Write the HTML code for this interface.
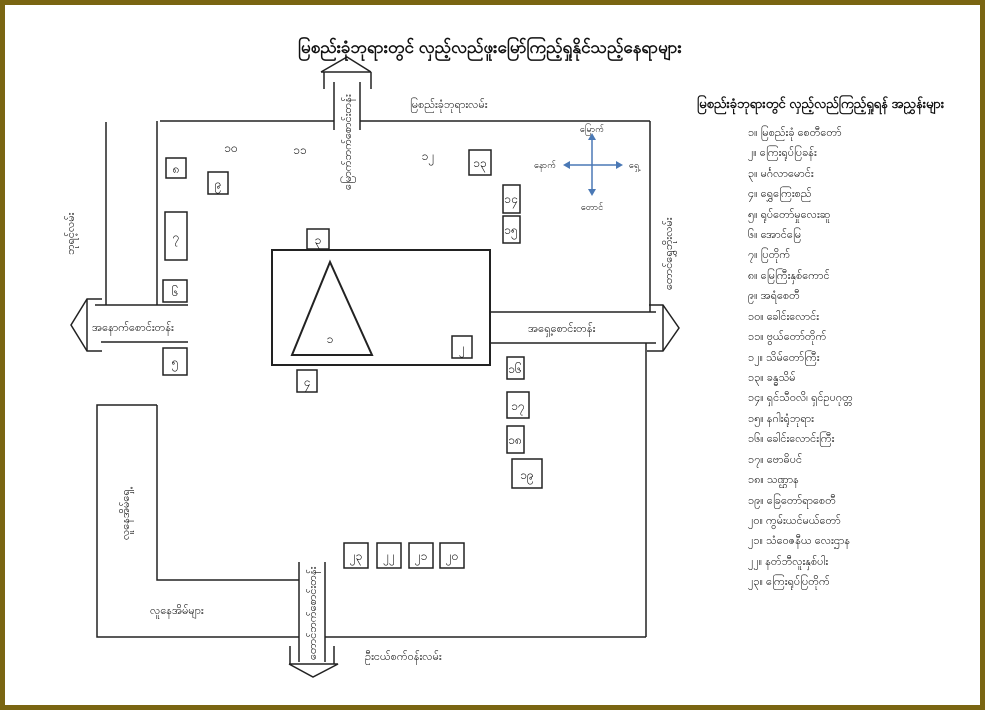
<!DOCTYPE html>
<html><head><meta charset="utf-8"><style>
html,body{margin:0;padding:0;background:#fff;}
svg{display:block;}
text{font-family:"Liberation Sans","Noto Sans CJK SC",sans-serif;fill:#111;}
</style></head><body>
<svg width="985" height="710" viewBox="0 0 985 710" xmlns="http://www.w3.org/2000/svg">
<rect x="2.5" y="2.5" width="980" height="705" fill="#fff" stroke="#7a6512" stroke-width="5"/>
<g stroke="#222" stroke-width="1.5" fill="none">
<line x1="160" y1="121" x2="334" y2="121"/><line x1="360" y1="121" x2="650" y2="121"/>
<line x1="650" y1="121" x2="650" y2="312"/>
<polyline points="321,72 347,57 371,72"/><line x1="321" y1="72" x2="371" y2="72"/>
<line x1="324" y1="72" x2="324" y2="89"/><line x1="371" y1="72" x2="371" y2="89"/>
<line x1="334" y1="82" x2="334" y2="130"/><line x1="360" y1="82" x2="360" y2="130"/>
<line x1="106" y1="122" x2="106" y2="305"/><line x1="157" y1="121" x2="157" y2="305"/>
<line x1="95" y1="305" x2="188" y2="305"/><line x1="101" y1="342" x2="188" y2="342"/>
<polyline points="102,299 87,299 71,325 87,351 102,351"/><line x1="87" y1="299" x2="87" y2="351"/>
<line x1="490" y1="312" x2="656" y2="312"/><line x1="490" y1="343" x2="656" y2="343"/>
<polyline points="649,305 663,305 679,328 663,351 647,351"/><line x1="663" y1="305" x2="663" y2="351"/>
<line x1="646" y1="343" x2="646" y2="637"/>
<polyline points="157,405 97,405 97,637 299,637"/><line x1="325" y1="637" x2="646" y2="637"/>
<polyline points="157,405 157,580 299,580"/>
<line x1="299" y1="562" x2="299" y2="662"/><line x1="325" y1="562" x2="325" y2="662"/>
<line x1="290" y1="646" x2="290" y2="664"/><line x1="334" y1="646" x2="334" y2="664"/>
<polyline points="289,664 338,664 313,677 289,664"/>
<rect x="272" y="250" width="218" height="115" stroke-width="2"/>
<polygon points="330,262 292,355 372,355" stroke-width="2"/>
<rect x="307" y="229" width="22" height="20" fill="#fff"/>
<rect x="452" y="336" width="20" height="22"/>
<rect x="297" y="370" width="20" height="22"/>
<rect x="166" y="158" width="20" height="20"/>
<rect x="208" y="172" width="20" height="22"/>
<rect x="165" y="212" width="22" height="48"/>
<rect x="163" y="280" width="24" height="22"/>
<rect x="163" y="348" width="24" height="27"/>
<rect x="469" y="150" width="22" height="25"/>
<rect x="503" y="185" width="17" height="28"/>
<rect x="503" y="216" width="17" height="27"/>
<rect x="507" y="357" width="17" height="22"/>
<rect x="507" y="392" width="22" height="26"/>
<rect x="507" y="426" width="17" height="27"/>
<rect x="512" y="459" width="30" height="29"/>
<rect x="344" y="543" width="24" height="25"/>
<rect x="377" y="543" width="24" height="25"/>
<rect x="409" y="543" width="24" height="25"/>
<rect x="440" y="543" width="24" height="25"/>
</g>
<g stroke="#4a78b5" stroke-width="1.5" fill="#4a78b5">
<line x1="568" y1="165" x2="618" y2="165"/><line x1="592" y1="138" x2="592" y2="191"/>
<polygon points="563,165 570,161 570,169" stroke="none"/>
<polygon points="623,165 616,161 616,169" stroke="none"/>
<polygon points="592,133 588,140 596,140" stroke="none"/>
<polygon points="592,196 588,189 596,189" stroke="none"/>
</g>
<g font-size="9" text-anchor="middle">
<text x="592" y="132">မြောက်</text><text x="545" y="168">နောက်</text>
<text x="634" y="168">ရှေ့</text><text x="592" y="210">တောင်</text>
</g>
<text x="490" y="53" font-size="17" text-anchor="middle" font-weight="bold">မြစည်းခုံဘုရားတွင် လှည့်လည်ဖူးမြော်ကြည့်ရှုနိုင်သည့်နေရာများ</text>
<g font-size="11">
<text x="410" y="108">မြစည်းခုံဘုရားလမ်း</text>
<text x="92" y="331">အနောက်စောင်းတန်း</text>
<text x="528" y="332">အရှေ့စောင်းတန်း</text>
<text x="150" y="614">လူနေအိမ်များ</text>
<text x="365" y="660">ဦးငယ်စက်ဝန်းလမ်း</text>
<text transform="translate(351,190) rotate(-90)">မြောက်ဘက်စောင်းတန်း</text>
<text transform="translate(316,660) rotate(-90)">တောင်ဘက်စောင်းတန်း</text>
<text transform="translate(74,255) rotate(-90)">ဘုရင့်လမ်း</text>
<text transform="translate(672,290) rotate(-90)">တောင်ရွှေဘိုးလမ်း</text>
<text transform="translate(129,540) rotate(-90)">လူနေအိမ်ရှေ့</text>
</g>
<g font-size="12" text-anchor="middle">
<text x="330" y="343">၁</text><text x="318" y="244">၃</text><text x="462" y="352">၂</text><text x="307" y="386">၄</text>
<text x="176" y="173">၈</text><text x="218" y="188">၉</text><text x="176" y="241">၇</text><text x="175" y="296">၆</text><text x="175" y="366">၅</text>
<text x="231" y="152">၁၀</text><text x="300" y="154">၁၁</text><text x="428" y="160">၁၂</text>
<text x="480" y="167">၁၃</text><text x="511" y="203">၁၄</text><text x="511" y="234">၁၅</text>
<text x="515" y="373">၁၆</text><text x="518" y="410">၁၇</text><text x="515" y="444">၁၈</text><text x="527" y="479">၁၉</text>
<text x="356" y="560">၂၃</text><text x="389" y="560">၂၂</text><text x="421" y="560">၂၁</text><text x="452" y="560">၂၀</text>
</g>
<text x="697" y="108" font-size="13" font-weight="bold">မြစည်းခုံဘုရားတွင် လှည့်လည်ကြည့်ရှုရန် အညွှန်းများ</text>
<g font-size="11">
<text x="748" y="136">၁။ မြစည်းခုံ စေတီတော်</text>
<text x="748" y="156">၂။ ကြေးရုပ်ပြခန်း</text>
<text x="748" y="177">၃။ မင်္ဂလာမောင်း</text>
<text x="748" y="197">၄။ ရွှေကြေးစည်</text>
<text x="748" y="218">၅။ ရုပ်တော်မှုလေးဆူ</text>
<text x="748" y="238">၆။ အောင်မြေ</text>
<text x="748" y="258">၇။ ပြတိုက်</text>
<text x="748" y="279">၈။ မြေကြီးနှစ်ကောင်</text>
<text x="748" y="299">၉။ အရံစေတီ</text>
<text x="748" y="320">၁၀။ ခေါင်းလောင်း</text>
<text x="748" y="340">၁၁။ ဗွယ်တော်တိုက်</text>
<text x="748" y="361">၁၂။ သိမ်တော်ကြီး</text>
<text x="748" y="381">၁၃။ ခန္ဓသိမ်</text>
<text x="748" y="401">၁၄။ ရှင်သီဝလိ၊ ရှင်ဥပဂုတ္တ</text>
<text x="748" y="422">၁၅။ နဂါးရုံဘုရား</text>
<text x="748" y="442">၁၆။ ခေါင်းလောင်းကြီး</text>
<text x="748" y="463">၁၇။ ဗောဓိပင်</text>
<text x="748" y="483">၁၈။ သဏ္ဌာန</text>
<text x="748" y="504">၁၉။ ခြေတော်ရာစေတီ</text>
<text x="748" y="524">၂၀။ ကွမ်းယင်မယ်တော်</text>
<text x="748" y="544">၂၁။ သံဝေဇနီယ လေးဌာန</text>
<text x="748" y="565">၂၂။ နတ်ဘီလူးနှစ်ပါး</text>
<text x="748" y="585">၂၃။ ကြေးရုပ်ပြတိုက်</text>
</g>
</svg>
</body></html>
